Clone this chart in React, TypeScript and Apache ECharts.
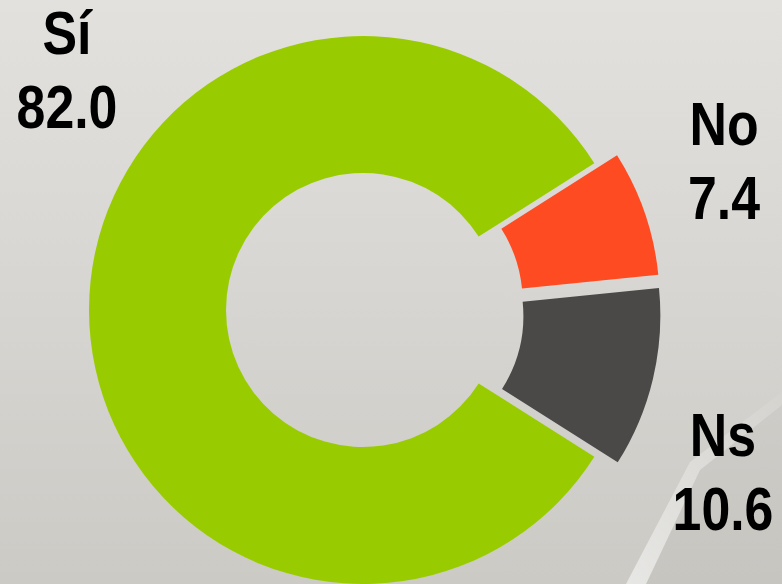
import React, { useEffect, useRef } from "react";
import * as echarts from "echarts";

const categories = ["Sí", "No", "Ns"];
const values = [82.0, 7.4, 10.6];
const colors = ["#99CC00", "#FF4B21", "#4B4848"];
const exploded = [false, true, true];
const labelAnchors: number[][] = [
  [67, 70],
  [724, 161],
  [723, 472],
];

export default function App() {
  const ref = useRef<HTMLDivElement>(null);
  useEffect(() => {
    if (!ref.current) return;
    const chart = echarts.init(ref.current, undefined, { renderer: "svg" });
    const labels = categories.map((name, i) => ({
      type: "text",
      x: labelAnchors[i][0],
      y: labelAnchors[i][1],
      scaleX: 0.85,
      z: 100,
      silent: true,
      style: {
        text: `${name}\n${values[i].toFixed(1)}`,
        fill: "#000000",
        fontSize: 61,
        fontWeight: "bold",
        fontFamily: '"Liberation Sans", Arial, sans-serif',
        lineHeight: 74,
        textAlign: "center",
        textVerticalAlign: "middle",
        align: "center",
        verticalAlign: "middle",
      },
    }));
    const option = {
      animation: false,
      backgroundColor: {
        type: "linear",
        x: 0,
        y: 0,
        x2: 0,
        y2: 1,
        colorStops: [
          { offset: 0, color: "#e2e1de" },
          { offset: 1, color: "#cbcac5" },
        ],
      },
      graphic: [
        {
          type: "polygon",
          silent: true,
          z: -10,
          shape: {
            points: [
              [626, 584],
              [646, 584],
              [700, 470],
              [782, 405],
              [782, 392],
              [690, 462],
            ],
          },
          style: {
            fill: {
              type: "linear",
              x: 0,
              y: 1,
              x2: 1,
              y2: 0,
              colorStops: [
                { offset: 0, color: "rgba(255,255,255,0.55)" },
                { offset: 0.5, color: "rgba(255,255,255,0.3)" },
                { offset: 1, color: "rgba(255,255,255,0.05)" },
              ],
            },
          },
        },
        {
          type: "polygon",
          silent: true,
          z: -11,
          shape: {
            points: [
              [646, 584],
              [782, 584],
              [782, 405],
              [700, 470],
            ],
          },
          style: { fill: "rgba(0,0,0,0.025)" },
        },
        ...labels,
      ],
      series: [
        {
          type: "pie",
          center: [363, 310],
          radius: [137, 274],
          startAngle: 327.6,
          clockwise: true,
          selectedMode: "multiple",
          selectedOffset: 24,
          silent: true,
          label: { show: false },
          labelLine: { show: false },
          emphasis: { disabled: true },
          itemStyle: { borderWidth: 0 },
          data: categories.map((name, i) => ({
            name,
            value: values[i],
            selected: exploded[i],
            itemStyle: { color: colors[i] },
          })),
        },
      ],
    };
    chart.setOption(option as any);
    return () => chart.dispose();
  }, []);
  return (
    <div
      ref={ref}
      style={{ position: "absolute", left: 0, top: 0, width: 782, height: 584 }}
    />
  );
}
